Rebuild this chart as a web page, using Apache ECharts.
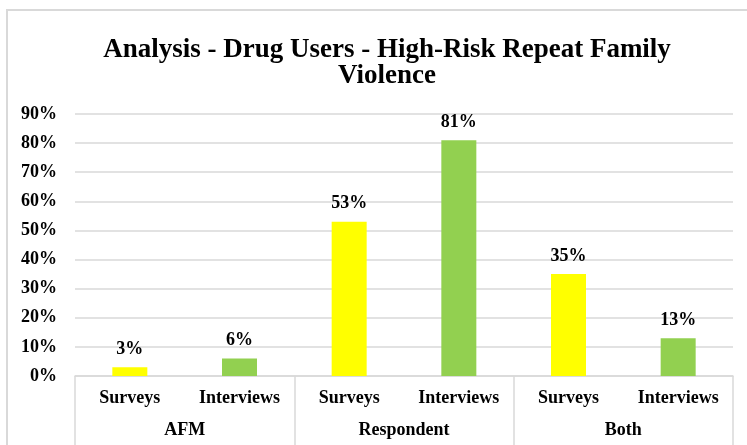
<!DOCTYPE html>
<html>
<head>
<meta charset="utf-8">
<script src="https://cdn.jsdelivr.net/npm/echarts@6/dist/echarts.min.js"></script>
<style>
  html, body { margin: 0; padding: 0; background: #fff; }
  #chart { width: 747px; height: 445px; }
</style>
</head>
<body>
<div id="chart"></div>
<script>
// Sub-categories (inner axis row) and groups (outer axis row)
const subCategories = ['Surveys', 'Interviews', 'Surveys', 'Interviews', 'Surveys', 'Interviews'];
const groups = ['AFM', 'Respondent', 'Both'];
// Share of drug users per source, in percent
const values = [3, 6, 53, 81, 35, 13];
const yTicks = [0, 10, 20, 30, 40, 50, 60, 70, 80, 90];

const surveyColor = '#FFFF00';
const interviewColor = '#92D050';
const lineColor = '#d9d9d9';
const font = '"Liberation Serif", "Times New Roman", serif';

const chart = echarts.init(document.getElementById('chart'));
chart.setOption({
  animation: false,
  graphic: [{
    type: 'rect',
    shape: { x: 7, y: 10, width: 800, height: 500 },
    style: { fill: 'none', stroke: lineColor, lineWidth: 2 },
    silent: true
  }],
  title: {
    text: 'Analysis - Drug Users - High-Risk Repeat Family\nViolence',
    left: 382,
    textAlign: 'center',
    top: 32,
    textStyle: {
      fontFamily: font, fontWeight: 'bold', fontSize: 27,
      lineHeight: 26, color: '#000'
    }
  },
  grid: { left: 75, right: 14, top: 114, bottom: 69 },
  xAxis: [{
    type: 'category',
    data: subCategories,
    position: 'bottom',
    axisLine: { lineStyle: { color: lineColor, width: 1.5 } },
    axisTick: { show: false },
    axisLabel: {
      margin: 13, interval: 0,
      fontFamily: font, fontWeight: 'bold', fontSize: 18, color: '#000'
    }
  }, {
    type: 'category',
    data: groups,
    position: 'bottom',
    axisLine: { show: false },
    axisTick: { show: true, length: 75, lineStyle: { color: lineColor, width: 1.5 } },
    axisLabel: {
      margin: 45, interval: 0,
      fontFamily: font, fontWeight: 'bold', fontSize: 18, color: '#000'
    }
  }],
  yAxis: {
    type: 'value',
    min: yTicks[0],
    max: yTicks[yTicks.length - 1],
    interval: 10,
    axisLine: { show: false },
    axisTick: { show: false },
    splitLine: { lineStyle: { color: lineColor, width: 1.5 } },
    axisLabel: {
      margin: 18,
      formatter: v => v + '%',
      fontFamily: font, fontWeight: 'bold', fontSize: 18, color: '#000'
    }
  },
  series: [{
    type: 'bar',
    xAxisIndex: 0,
    barWidth: 35,
    data: values.map((v, i) => ({
      value: v,
      itemStyle: { color: i % 2 === 0 ? surveyColor : interviewColor }
    })),
    label: {
      show: true,
      position: 'top',
      distance: 9,
      formatter: p => p.value + '%',
      fontFamily: font, fontWeight: 'bold', fontSize: 18, color: '#000'
    }
  }]
});
</script>
</body>
</html>
